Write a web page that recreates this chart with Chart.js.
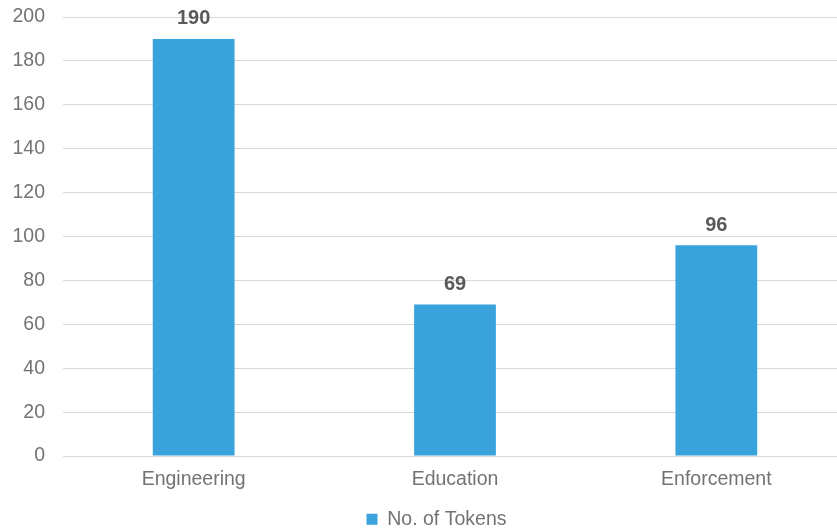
<!DOCTYPE html>
<html lang="en">
<head>
  <meta charset="UTF-8" />
  <title>No. of Tokens</title>
  <script src="https://cdn.jsdelivr.net/npm/chart.js"></script>
  <style>
    html, body {
      margin: 0;
      padding: 0;
      background: #fff;
      overflow: hidden;
    }
    .chart {
      position: relative;
      width: 848px;
      height: 541px;
    }
  </style>
</head>
<body>
  <div class="chart"><canvas id="tokenChart"></canvas></div>

  <script>
    const categories = ['Engineering', 'Education', 'Enforcement'];
    const tokenCounts = [190, 69, 96];
    const seriesLabel = 'No. of Tokens';

    const barColor = '#3aa3db';
    const font = 'Liberation Sans, Arial, sans-serif';

    // writes the value above each bar
    const valueLabels = {
      id: 'valueLabels',
      afterDatasetsDraw(chart) {
        const ctx = chart.ctx;
        ctx.save();
        ctx.font = 'bold 20px ' + font;
        ctx.fillStyle = '#595959';
        ctx.textAlign = 'center';
        ctx.textBaseline = 'middle';
        chart.getDatasetMeta(0).data.forEach((bar, i) => {
          ctx.fillText(chart.data.datasets[0].data[i], bar.x, bar.y - 20);
        });
        ctx.restore();
      }
    };

    // centre the legend a bit right of the canvas middle
    const legendShift = {
      id: 'legendShift',
      afterLayout(chart) {
        if (chart.legend) chart.legend.left += 26;
      }
    };

    new Chart(document.getElementById('tokenChart'), {
      type: 'bar',
      data: {
        labels: categories,
        datasets: [{
          label: seriesLabel,
          data: tokenCounts,
          backgroundColor: barColor,
          borderWidth: 0,
          categoryPercentage: 1,
          barPercentage: 0.313
        }]
      },
      options: {
        responsive: true,
        maintainAspectRatio: false,
        animation: false,
        layout: { padding: { top: 17, left: 0, right: 1, bottom: 2 } },
        plugins: {
          tooltip: { enabled: false },
          legend: {
            position: 'bottom',
            labels: {
              boxWidth: 11,
              boxHeight: 11,
              color: '#737373',
              padding: 14,
              font: { family: font, size: 19.5 }
            }
          }
        },
        scales: {
          x: {
            grid: { display: false },
            border: { display: false },
            ticks: {
              color: '#737373',
              padding: 4,
              font: { family: font, size: 19.5 }
            }
          },
          y: {
            min: 0,
            max: 200,
            afterFit(scale) {
              scale.width = 63;
              scale.paddingTop = 0;
              scale.paddingBottom = 0;
            },
            grid: { color: '#d9d9d9', lineWidth: 1, drawTicks: false },
            border: { display: false },
            ticks: {
              stepSize: 20,
              color: '#737373',
              padding: 18,
              font: { family: font, size: 19.5 }
            }
          }
        }
      },
      plugins: [valueLabels, legendShift]
    });
  </script>
</body>
</html>
